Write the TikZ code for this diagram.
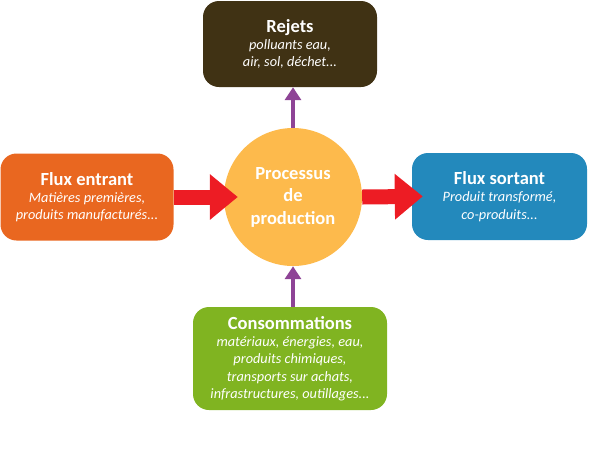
\documentclass[tikz,border=0pt]{standalone}
\usepackage{fontspec}
\setmainfont{Carlito}
\usetikzlibrary{arrows.meta}

\definecolor{rejetbrun}{RGB}{64,50,20}
\definecolor{entrantorange}{RGB}{233,103,32}
\definecolor{sortantbleu}{RGB}{35,137,188}
\definecolor{consovert}{RGB}{128,180,33}
\definecolor{procjaune}{RGB}{253,186,76}
\definecolor{flecherouge}{RGB}{237,28,36}
\definecolor{flecheviolet}{RGB}{142,68,150}

\newcommand{\titreboite}[1]{{\fontsize{18.5pt}{18pt}\selectfont\bfseries\upshape #1}}

\begin{document}
\begin{tikzpicture}[x=1pt,y=-1pt,
	boite/.style={rectangle,rounded corners=16pt,text=white,align=center,inner sep=0pt,
		font=\fontsize{14.3pt}{17.3pt}\selectfont\itshape},
	grosfleche/.style={flecherouge,line width=15pt,-{Triangle[length=28pt,width=44pt]}},
	petitefleche/.style={flecheviolet,line width=4pt,-{Triangle[length=13pt,width=16pt]}}]
			\useasboundingbox (0,0) rectangle (609,451);
			\coordinate (centre) at (293,197);
			\coordinate (haut) at (290,44);
			\coordinate (gauche) at (87,197);
			\coordinate (droite) at (499.5,196.5);
			\coordinate (bas) at (290,358.5);
			
			\node[circle,fill=procjaune,minimum size=138pt,text=white,align=center,
				font=\fontsize{18.5pt}{22.5pt}\selectfont\bfseries] (proc) at (centre) {Processus\\de\\production};
			
			\node[boite,fill=rejetbrun,minimum width=174pt,minimum height=86pt] (rejets) at (haut)
				{\titreboite{Rejets}\\polluants eau,\\air, sol, déchet...};
			\node[boite,fill=entrantorange,minimum width=173pt,minimum height=87pt] (entrant) at (gauche)
				{\titreboite{Flux entrant}\\Matières premières,\\produits manufacturés...};
			\node[boite,fill=sortantbleu,minimum width=175pt,minimum height=87pt] (sortant) at (droite)
				{\titreboite{Flux sortant}\\Produit transformé,\\co-produits...};
			\node[boite,fill=consovert,minimum width=194pt,minimum height=103pt] (conso) at (bas)
				{\titreboite{Consommations}\\matériaux, énergies, eau,\\produits chimiques,\\transports sur achats,\\infrastructures, outillages...};
			
			\draw[grosfleche,shorten >=-14pt] (entrant.east) -- (proc.west);
			\draw[grosfleche,shorten >=-11pt] (proc.east) -- (sortant.west);
			\draw[petitefleche] (proc.north) -- (proc.north |- rejets.south);
			\draw[petitefleche] (proc.south |- conso.north) -- (proc.south);
		\end{tikzpicture}
\end{document}
